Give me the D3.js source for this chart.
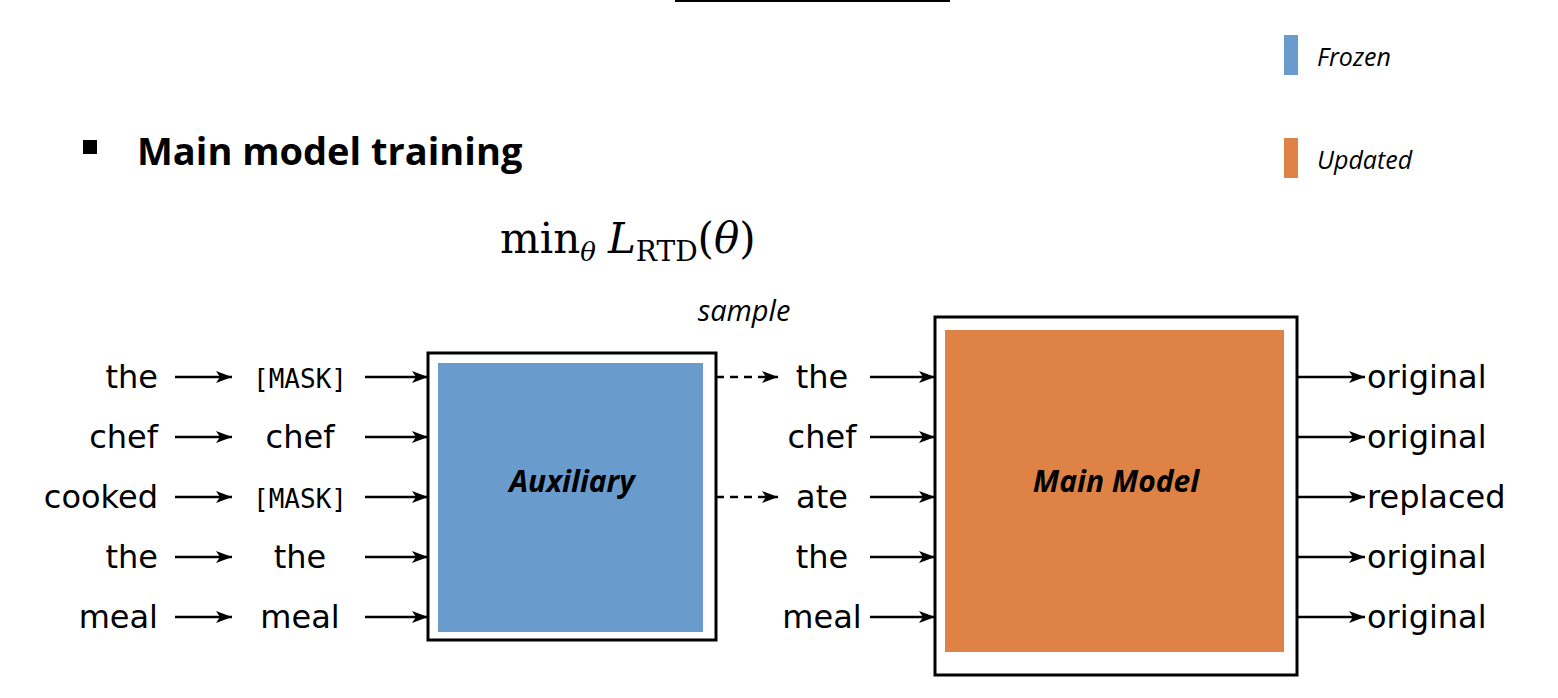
<!DOCTYPE html>
<html><head><meta charset="utf-8">
<script src="https://cdn.jsdelivr.net/npm/d3@7"></script>
<style>body{margin:0;background:#fff}</style>
</head><body><svg id="c" width="1558" height="698"></svg>
<script>
const inputWords = ["the", "chef", "cooked", "the", "meal"];
const maskedWords = ["[MASK]", "chef", "[MASK]", "the", "meal"];
const sampledWords = ["the", "chef", "ate", "the", "meal"];
const outputLabels = ["original", "original", "replaced", "original", "original"];
const legendItems = [{ name: "Frozen", color: "#6a9bcd" }, { name: "Updated", color: "#df8245" }];

const svg = d3.select("#c");
const sans = "DejaVu Sans, sans-serif";
const rowY = d3.scalePoint().domain(d3.range(inputWords.length)).range([377, 617]);

svg.append("defs").append("marker")
  .attr("id", "ah").attr("viewBox", "0 0 10 10").attr("refX", 10).attr("refY", 5)
  .attr("markerWidth", 10).attr("markerHeight", 10).attr("markerUnits", "userSpaceOnUse")
  .attr("orient", "auto")
  .append("path").attr("d", "M0,0 L10,5 L0,10 L3,5 Z").attr("fill", "#000");
// bigger marker
svg.select("defs").append("marker")
  .attr("id", "ahb").attr("viewBox", "0 0 16 12").attr("refX", 16).attr("refY", 6)
  .attr("markerWidth", 16).attr("markerHeight", 12).attr("markerUnits", "userSpaceOnUse")
  .attr("orient", "auto")
  .append("path").attr("d", "M0,0 L16,6 L0,12 L4,6 Z").attr("fill", "#000");

// top rule
svg.append("line").attr("x1", 675).attr("x2", 950).attr("y1", 1).attr("y2", 1)
  .attr("stroke", "#000").attr("stroke-width", 2);

// legend
const leg = svg.selectAll("g.leg").data(legendItems).enter().append("g")
  .attr("transform", (d, i) => `translate(1284,${35 + i * 103})`);
leg.append("rect").attr("width", 14).attr("height", 40).attr("fill", d => d.color);
leg.append("text").attr("x", 33).attr("y", 31).attr("font-family", "Open Sans, sans-serif")
  .attr("font-style", "italic").attr("font-size", 25).text(d => d.name);

// heading
svg.append("rect").attr("x", 83).attr("y", 140).attr("width", 14).attr("height", 14);
svg.append("text").attr("x", 137).attr("y", 165).attr("font-family", "Open Sans, sans-serif")
  .attr("font-weight", "bold").attr("font-size", 38).text("Main model training");

// formula
const f = svg.append("text").attr("x", 500).attr("y", 253)
  .attr("font-family", "DejaVu Serif, serif").attr("font-size", 42);
f.append("tspan").text("min");
f.append("tspan").attr("font-style", "italic").attr("font-size", 26).attr("dy", 8).text("θ");
f.append("tspan").attr("font-style", "italic").attr("dy", -8).attr("dx", 12).text("L");
f.append("tspan").attr("font-size", 28).attr("dy", 8).text("RTD");
f.append("tspan").attr("dy", -8).text("(");
f.append("tspan").attr("font-style", "italic").text("θ");
f.append("tspan").text(")");

svg.append("text").attr("x", 744).attr("y", 321).attr("text-anchor", "middle")
  .attr("font-family", "Open Sans, sans-serif").attr("font-style", "italic")
  .attr("font-size", 29).text("sample");

// boxes
function box(x0, y0, x1, y1, pad, color, label) {
  svg.append("rect").attr("x", x0).attr("y", y0).attr("width", x1 - x0).attr("height", y1 - y0)
    .attr("fill", "#fff").attr("stroke", "#000").attr("stroke-width", 3);
  svg.append("rect").attr("x", x0 + pad[0]).attr("y", y0 + pad[1])
    .attr("width", x1 - x0 - pad[0] - pad[2]).attr("height", y1 - y0 - pad[1] - pad[3]).attr("fill", color);
  svg.append("text").attr("x", (x0 + x1) / 2).attr("y", 492).attr("text-anchor", "middle")
    .attr("font-family", "Open Sans, sans-serif").attr("font-weight", "bold").attr("font-style", "italic")
    .attr("font-size", 30).text(label);
}
box(428, 353, 716, 640, [10, 10, 13, 8], legendItems[0].color, "Auxiliary");
box(935, 317, 1297, 675, [10, 13, 13, 23], legendItems[1].color, "Main Model");

function words(data, x, anchor, family) {
  svg.selectAll(null).data(data).enter().append("text")
    .attr("x", x).attr("y", (d, i) => rowY(i) + 11).attr("text-anchor", anchor)
    .attr("font-family", family).attr("font-size", 32).text(d => d);
}
function arrows(x1, x2, dash, filter) {
  svg.selectAll(null).data(inputWords.map((d, i) => i).filter(filter || (() => true))).enter().append("line")
    .attr("x1", x1).attr("x2", x2).attr("y1", i => rowY(i)).attr("y2", i => rowY(i))
    .attr("stroke", "#000").attr("stroke-width", 2.5).attr("stroke-dasharray", dash)
    .attr("marker-end", "url(#ahb)");
}
words(inputWords, 158, "end", sans);
arrows(175, 232);
svg.selectAll(null).data(maskedWords).enter().append("text")
  .attr("x", 300).attr("y", (d, i) => rowY(i) + 11).attr("text-anchor", "middle")
  .attr("font-family", d => d === "[MASK]" ? "DejaVu Sans Mono, monospace" : sans)
  .attr("font-size", d => d === "[MASK]" ? 26 : 32).text(d => d);
arrows(365, 428);
arrows(716, 778, "8,6", i => maskedWords[i] === "[MASK]");
words(sampledWords, 822, "middle", sans);
arrows(870, 935);
arrows(1297, 1365);
words(outputLabels, 1367, "start", sans);
</script></body></html>
